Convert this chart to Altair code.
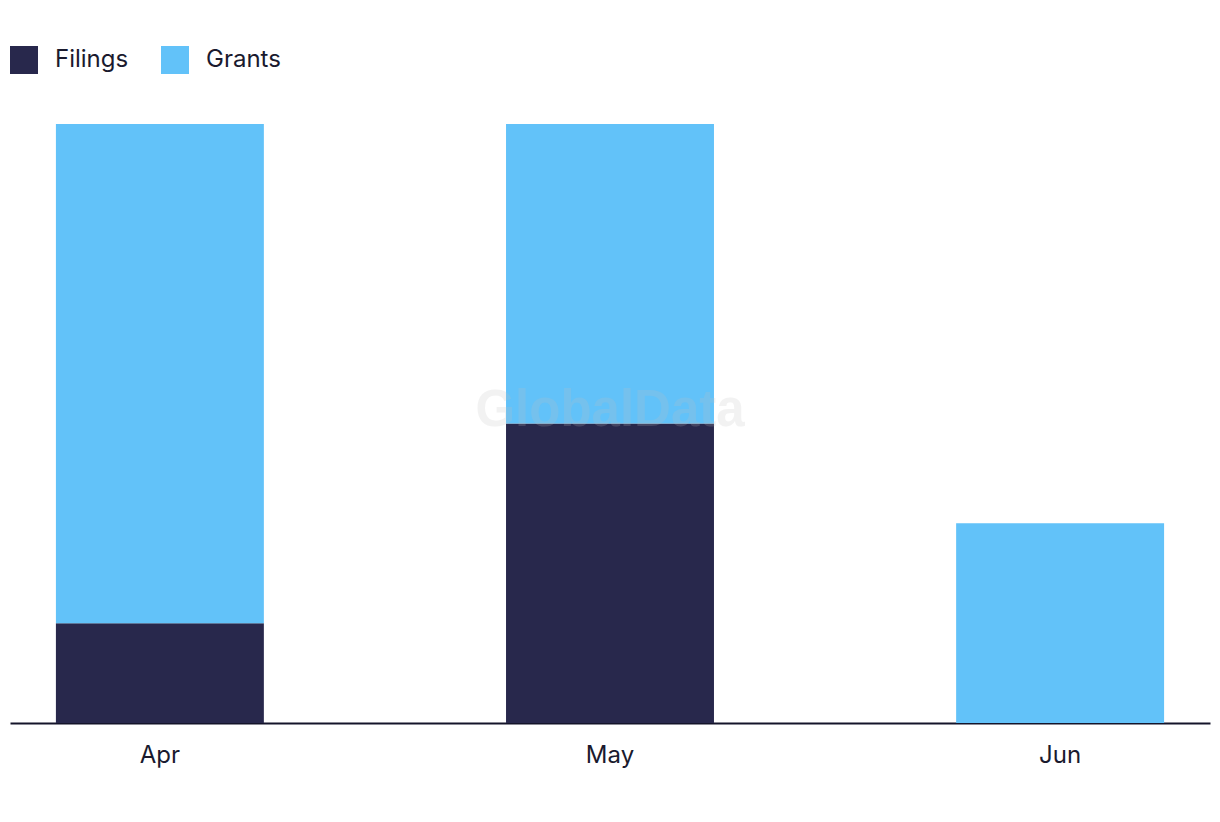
import altair as alt
import pandas as pd

months = ["Apr", "May", "Jun"]
filings = [1, 3, 0]
grants = [5, 3, 2]
series = ["Filings", "Grants"]
colors = ["#28284c", "#62c2f9"]

rows = []
for m, f, g in zip(months, filings, grants):
    rows.append({"month": m, "series": "Filings", "value": f, "ord": 0})
    rows.append({"month": m, "series": "Grants", "value": g, "ord": 1})
df = pd.DataFrame(rows)

FONT = "Inter"

bars = alt.Chart(df).mark_bar().encode(
    x=alt.X("month:N", sort=months,
            scale=alt.Scale(paddingInner=0.538, paddingOuter=0.102),
            axis=alt.Axis(title=None, labelAngle=0, labelFontSize=24, labelFont=FONT,
                          labelColor="#1a1a2e", labelPadding=20, ticks=False,
                          domainColor="#14142a", domainWidth=2)),
    y=alt.Y("value:Q", stack="zero", scale=alt.Scale(domain=[0, 6], nice=False),
            axis=None),
    color=alt.Color("series:N", scale=alt.Scale(domain=series, range=colors),
                    legend=alt.Legend(title=None, orient="none", legendX=0, legendY=-78,
                                      direction="horizontal", symbolType="square",
                                      symbolSize=784, symbolStrokeWidth=0,
                                      labelFontSize=24, labelFont=FONT, labelColor="#1a1a2e",
                                      labelOffset=17, columnPadding=32)),
    order=alt.Order("ord:Q"),
)

watermark = alt.Chart(pd.DataFrame({"t": ["GlobalData"]})).mark_text(
    font="Liberation Sans", fontWeight="bold", fontSize=51, color="#c0c0c0", opacity=0.2
).encode(text="t:N", x=alt.value(600), y=alt.value(287))

chart = alt.layer(bars, watermark).properties(
    width=1200, height=599,
    autosize=alt.AutoSizeParams(type="none"),
    padding={"left": 10, "right": 10, "top": 124, "bottom": 99},
).configure_view(stroke=None).configure_axis(grid=False)

chart.save("out.html", embed_options={"renderer": "svg", "actions": False})
